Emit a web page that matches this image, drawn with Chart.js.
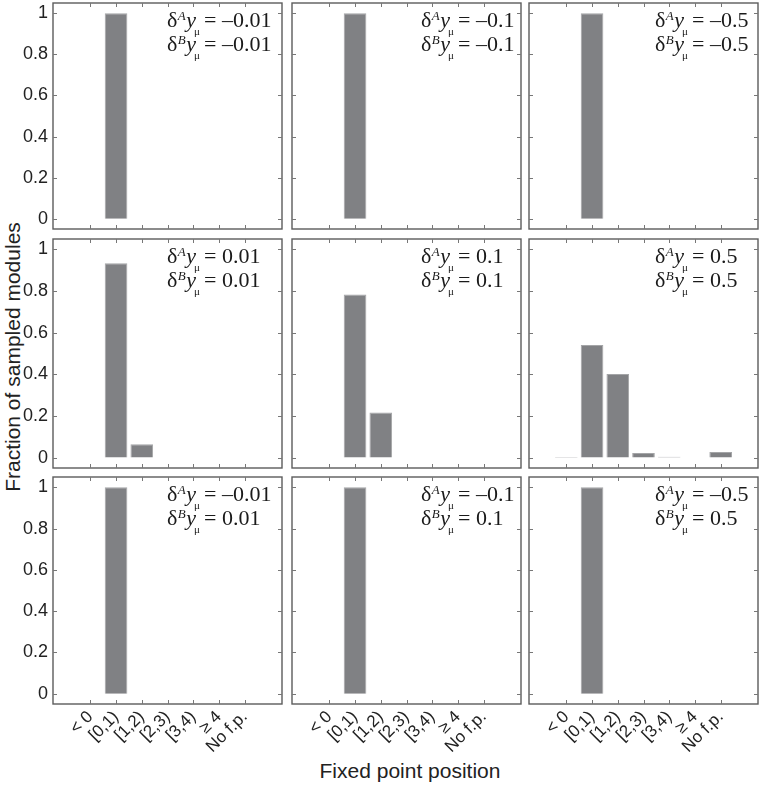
<!DOCTYPE html>
<html>
<head>
<meta charset="utf-8">
<script src="https://cdn.jsdelivr.net/npm/chart.js@4.4.0/dist/chart.umd.min.js"></script>
<style>
  html, body { margin: 0; padding: 0; background: #fff; }
  body { width: 763px; height: 787px; position: relative; overflow: hidden; }
  canvas { position: absolute; }
  .axis-title {
    position: absolute;
    font-family: "Liberation Sans", Arial, sans-serif;
    font-size: 21px;
    line-height: 21px;
    color: #222;
    white-space: nowrap;
  }
  #xTitle { left: 410px; top: 770px; transform: translate(-50%, -50%); }
  #yTitle { left: 12px; top: 357px; transform: translate(-50%, -50%) rotate(-90deg); }
</style>
</head>
<body>
<div class="axis-title" id="xTitle">Fixed point position</div>
<div class="axis-title" id="yTitle">Fraction of sampled modules</div>
<script>
// Data
const categories = ["< 0", "[0,1)", "[1,2)", "[2,3)", "[3,4)", "≥ 4", "No f.p."];
const yTickValues = [0, 0.2, 0.4, 0.6, 0.8, 1];

// row 1: both perturbations negative
const negNeg001 = [0, 1, 0, 0, 0, 0, 0];
const negNeg01 = [0, 1, 0, 0, 0, 0, 0];
const negNeg05 = [0, 1, 0, 0, 0, 0, 0];
// row 2: both positive
const posPos001 = [0, 0.934, 0.064, 0, 0, 0, 0];
const posPos01 = [0, 0.783, 0.217, 0, 0, 0, 0];
const posPos05 = [0.003, 0.541, 0.402, 0.022, 0.004, 0, 0.027];
// row 3: opposite signs
const negPos001 = [0, 1, 0, 0, 0, 0, 0];
const negPos01 = [0, 1, 0, 0, 0, 0, 0];
const negPos05 = [0, 1, 0, 0, 0, 0, 0];

const deltaA = ["–0.01", "–0.1", "–0.5", "0.01", "0.1", "0.5", "–0.01", "–0.1", "–0.5"];
const deltaB = ["–0.01", "–0.1", "–0.5", "0.01", "0.1", "0.5", "0.01", "0.1", "0.5"];

const panelValues = [
  negNeg001, negNeg01, negNeg05,
  posPos001, posPos01, posPos05,
  negPos001, negPos01, negPos05,
];

// Layout
const colX = [53, 292, 529];
const rowY = [3, 239, 477];
const rowH = [226, 229, 227];
const panelW = 229;
const yAxisW = 53;
const xAxisH = 62;
const margin = 4;
const textLeft = [114, 129, 126];

const serif = '"Liberation Serif", "Times New Roman", serif';
const sans = '"Liberation Sans", Arial, sans-serif';

// δ^A y_μ = value, returns width
function drawDelta(ctx, x, base, letter, value, draw) {
  const x0 = x;
  ctx.font = "22px " + serif;
  if (draw) ctx.fillText("δ", x, base);
  x += ctx.measureText("δ").width + 0.5;
  ctx.font = "italic 13px " + serif;
  if (draw) ctx.fillText(letter, x, base - 7);
  x += ctx.measureText(letter).width + 0.5;
  ctx.font = "italic 22px " + serif;
  if (draw) ctx.fillText("y", x, base);
  const yw = ctx.measureText("y").width;
  ctx.font = "11px " + serif;
  if (draw) ctx.fillText("μ", x + yw * 0.8, base + 7.5);
  x += yw + 8;
  ctx.font = "22px " + serif;
  const rest = "= " + value;
  if (draw) ctx.fillText(rest, x, base);
  x += ctx.measureText(rest).width;
  return x - x0;
}

const framePlugin = {
  id: "frame",
  afterDatasetsDraw(chart, args, opts) {
    const { ctx, chartArea: a } = chart;
    const x = chart.scales.x;
    const y = chart.scales.y;
    ctx.save();
    ctx.strokeStyle = "#5c5c5c";
    ctx.lineWidth = 1.4;
    ctx.strokeRect(a.left, a.top, a.right - a.left, a.bottom - a.top);

    ctx.strokeStyle = "#777";
    ctx.lineWidth = 1;
    ctx.beginPath();
    categories.forEach((c, i) => {
      const px = Math.round(x.getPixelForValue(i)) + 0.5;
      ctx.moveTo(px, a.bottom);
      ctx.lineTo(px, a.bottom - 4);
      ctx.moveTo(px, a.top);
      ctx.lineTo(px, a.top + 4);
    });
    yTickValues.forEach((v) => {
      const py = Math.round(y.getPixelForValue(v)) + 0.5;
      ctx.moveTo(a.left, py);
      ctx.lineTo(a.left + 4, py);
      ctx.moveTo(a.right, py);
      ctx.lineTo(a.right - 4, py);
    });
    ctx.stroke();

    // annotation
    ctx.fillStyle = "#1a1a1a";
    ctx.textAlign = "left";
    ctx.textBaseline = "alphabetic";
    const w = Math.max(
      drawDelta(ctx, 0, 0, "A", opts.a, false),
      drawDelta(ctx, 0, 0, "B", opts.b, false)
    );
    const tx = Math.min(a.left + opts.left, a.right - 6 - w);
    drawDelta(ctx, tx, a.top + 24, "A", opts.a, true);
    drawDelta(ctx, tx, a.top + 48, "B", opts.b, true);
    ctx.restore();
  },
};

panelValues.forEach((vals, k) => {
  const row = Math.floor(k / 3);
  const col = k % 3;
  const yw = col === 0 ? yAxisW : 0;
  const xh = row === 2 ? xAxisH : 0;
  const w = panelW + yw + 2 * margin;
  const h = rowH[row] + xh + 2 * margin;

  const canvas = document.createElement("canvas");
  canvas.width = w;
  canvas.height = h;
  canvas.style.width = w + "px";
  canvas.style.height = h + "px";
  canvas.style.left = colX[col] - yw - margin + "px";
  canvas.style.top = rowY[row] - margin + "px";
  document.body.appendChild(canvas);

  new Chart(canvas.getContext("2d"), {
    type: "bar",
    data: {
      datasets: [
        {
          data: vals.map((v, i) => ({ x: i, y: v })),
          backgroundColor: "#808184",
          borderColor: "#a4a5a7",
          borderWidth: 1,
          categoryPercentage: 1,
          barPercentage: 0.88,
        },
      ],
    },
    options: {
      responsive: false,
      animation: false,
      events: [],
      layout: { padding: margin, autoPadding: false },
      plugins: {
        legend: { display: false },
        tooltip: { enabled: false },
        frame: { a: deltaA[k], b: deltaB[k], left: textLeft[col] },
      },
      scales: {
        x: {
          type: "linear",
          min: -0.815,
          max: 6.815,
          afterBuildTicks: (s) => {
            s.ticks = categories.map((c, i) => ({ value: i }));
          },
          afterFit: (s) => {
            s.height = xh;
            s.paddingLeft = 0;
            s.paddingRight = 0;
          },
          grid: { display: false, drawTicks: false },
          border: { display: false },
          ticks: {
            display: row === 2,
            autoSkip: false,
            minRotation: 45,
            maxRotation: 45,
            padding: 3,
            color: "#222",
            font: { family: sans, size: 17 },
            callback: (v) => categories[v],
          },
        },
        y: {
          min: -0.05,
          max: 1.05,
          afterBuildTicks: (s) => {
            s.ticks = yTickValues.map((v) => ({ value: v }));
          },
          afterFit: (s) => {
            s.width = yw;
            s.paddingTop = 0;
            s.paddingBottom = 0;
          },
          grid: { display: false, drawTicks: false },
          border: { display: false },
          ticks: {
            display: col === 0,
            padding: 5,
            color: "#222",
            font: { family: sans, size: 18 },
            callback: (v) => String(v),
          },
        },
      },
    },
    plugins: [framePlugin],
  });
});
</script>
</body>
</html>
